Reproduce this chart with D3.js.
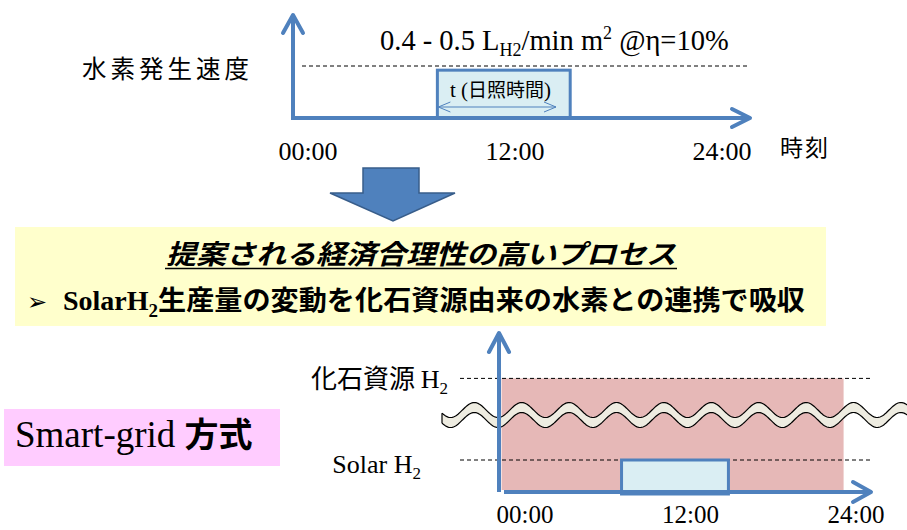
<!DOCTYPE html>
<html><head><meta charset="utf-8">
<script src="https://cdn.jsdelivr.net/npm/d3@7"></script>
<style>body{margin:0;background:#fff}</style></head>
<body><svg id="c" width="907" height="530"></svg>
<script>
// ---- data ----
const timeTicks = [0, 12, 24];
const tickLabels = ["00:00", "12:00", "24:00"];
const topSunHours = [7.5, 15.2];          // daylight window, top chart
const topRateLevels = [0.5, 0.46];        // dashed upper bound, generation level
const bottomSunHours = [7.0, 14.75];      // solar H2 window, bottom chart
const bottomFossilHours = [-1.7, 23.1];   // fossil H2 supply span
const bottomLevelNames = ["Solar H2", "化石資源 H2"];
const bottomLevelValues = [1, 3.55];

const BLUE = "#4f81bd", SERIF = "'Liberation Serif','Times New Roman',serif",
      CJK = "'Noto Sans CJK JP','Noto Sans CJK SC',sans-serif";
const svg = d3.select("#c");

// ---- scales ----
const xTop = d3.scaleLinear().domain([0, 24]).range([308, 722]);
const yTop = d3.scaleLinear().domain([0, 1]).range([118, 14]);
const xBot = d3.scaleLinear().domain([0, 24]).range([525, 856]);
const yBot = d3.scaleLinear().domain([0, 4]).range([492, 364]);

function chevron(g, pts) {
  g.append("path").attr("d", d3.line()(pts)).attr("fill", "none")
    .attr("stroke", BLUE).attr("stroke-width", 4)
    .attr("stroke-linecap", "round").attr("stroke-linejoin", "round");
}
function axisLine(g, x1, y1, x2, y2) {
  g.append("line").attr("x1", x1).attr("y1", y1).attr("x2", x2).attr("y2", y2)
    .attr("stroke", BLUE).attr("stroke-width", 4);
}

// ================= TOP CHART =================
const topG = svg.append("g");
topG.append("line").attr("x1", 302).attr("x2", 747)
  .attr("y1", yTop(topRateLevels[0])).attr("y2", yTop(topRateLevels[0]))
  .attr("stroke", "#000").attr("stroke-width", 1).attr("stroke-dasharray", "4,3");
topG.append("rect").attr("x", xTop(topSunHours[0])).attr("y", yTop(topRateLevels[1]))
  .attr("width", xTop(topSunHours[1]) - xTop(topSunHours[0]))
  .attr("height", yTop(0) - yTop(topRateLevels[1]))
  .attr("fill", "#daeef3").attr("stroke", BLUE).attr("stroke-width", 3);
const x0t = 293;
axisLine(topG, x0t, yTop(0) + 2, x0t, 16);
chevron(topG, [[x0t - 10, 33], [x0t, 15], [x0t + 10, 33]]);
axisLine(topG, x0t - 2, yTop(0), 748, yTop(0));
chevron(topG, [[732, yTop(0) - 9], [750, yTop(0)], [732, yTop(0) + 9]]);
const dy = 107, dx1 = xTop(topSunHours[0]) + 1, dx2 = 556;
topG.append("line").attr("x1", dx1).attr("x2", dx2).attr("y1", dy).attr("y2", dy)
  .attr("stroke", BLUE).attr("stroke-width", 1);
topG.append("path").attr("d", d3.line()([[dx1 + 12, dy - 5], [dx1, dy], [dx1 + 12, dy + 5]]))
  .attr("fill", "none").attr("stroke", BLUE).attr("stroke-width", 1);
topG.append("path").attr("d", d3.line()([[dx2 - 12, dy - 5], [dx2, dy], [dx2 - 12, dy + 5]]))
  .attr("fill", "none").attr("stroke", BLUE).attr("stroke-width", 1);
const tl = topG.append("text").attr("x", 450).attr("y", 97).attr("font-size", 21);
tl.append("tspan").attr("font-family", SERIF).text("t (");
tl.append("tspan").attr("font-family", CJK).attr("font-size", 19).text("日照時間");
tl.append("tspan").attr("font-family", SERIF).text(")");
const rl = topG.append("text").attr("x", 380).attr("y", 50).attr("font-family", SERIF).attr("font-size", 28.5);
rl.append("tspan").text("0.4 - 0.5 L");
rl.append("tspan").attr("font-size", 18).attr("dy", 6).text("H2");
rl.append("tspan").attr("dy", -6).text("/min m");
rl.append("tspan").attr("font-size", 18).attr("dy", -11).text("2");
rl.append("tspan").attr("dy", 11).text(" @η=10%");
topG.selectAll(".tt").data(timeTicks).enter().append("text")
  .attr("x", d => xTop(d)).attr("y", 160).attr("text-anchor", "middle")
  .attr("font-family", SERIF).attr("font-size", 26).text((d, i) => tickLabels[i]);
topG.append("text").attr("x", 780).attr("y", 156).attr("font-family", CJK)
  .attr("font-size", 23).attr("letter-spacing", 2).text("時刻");
topG.append("text").attr("x", 82).attr("y", 78).attr("font-family", CJK)
  .attr("font-size", 24.5).attr("letter-spacing", 4).text("水素発生速度");

// ================= BIG DOWN ARROW =================
svg.append("path")
  .attr("d", d3.line()([[363, 168], [419, 168], [419, 193], [455, 193], [393, 221], [330, 193], [363, 193]]) + "Z")
  .attr("fill", BLUE).attr("stroke", "#385d8a").attr("stroke-width", 1.5);

// ================= YELLOW BOX =================
svg.append("rect").attr("x", 15).attr("y", 227).attr("width", 811).attr("height", 99).attr("fill", "#ffffcc");
svg.append("text").attr("x", 166).attr("y", 264).attr("font-family", CJK).attr("font-size", 27)
  .attr("font-weight", "bold").attr("font-style", "italic")
  .attr("textLength", 510).attr("lengthAdjust", "spacingAndGlyphs")
  .text("提案される経済合理性の高いプロセス");
svg.append("line").attr("x1", 165).attr("x2", 677).attr("y1", 268.5).attr("y2", 268.5)
  .attr("stroke", "#000").attr("stroke-width", 1.5);
svg.append("text").attr("x", 27).attr("y", 310).attr("font-family", "'DejaVu Sans',sans-serif")
  .attr("font-size", 24).text("➢");
const bl = svg.append("text").attr("x", 63).attr("y", 310).attr("font-weight", "bold");
bl.append("tspan").attr("font-family", SERIF).attr("font-size", 28).text("SolarH");
bl.append("tspan").attr("font-family", SERIF).attr("font-size", 19).attr("dy", 7).text("2");
svg.append("text").attr("x", 158).attr("y", 310).attr("font-family", CJK).attr("font-size", 27)
  .attr("font-weight", "bold").attr("textLength", 647).attr("lengthAdjust", "spacingAndGlyphs")
  .text("生産量の変動を化石資源由来の水素との連携で吸収");

// ================= BOTTOM CHART =================
const botG = svg.append("g");
botG.append("rect").attr("x", xBot(bottomFossilHours[0])).attr("y", yBot(bottomLevelValues[1]))
  .attr("width", xBot(bottomFossilHours[1]) - xBot(bottomFossilHours[0]))
  .attr("height", yBot(0) - 2 - yBot(bottomLevelValues[1]))
  .attr("fill", "#e6b8b7");
botG.selectAll(".dl").data(bottomLevelValues).enter().append("line")
  .attr("x1", 460).attr("x2", 871).attr("y1", d => yBot(d)).attr("y2", d => yBot(d))
  .attr("stroke", "#000").attr("stroke-width", 1).attr("stroke-dasharray", "4,3");
// wave break symbol (decoration)
const waveMid = 415, amp = 7.5, period = 47.4, thick = 10, wx0 = 442, wx1 = 910;
const topPts = d3.range(wx0, wx1 + 0.5, 1).map(x => [x, waveMid - thick / 2 + amp * Math.cos(2 * Math.PI * (x - 498) / period)]);
const botPts = topPts.map(p => [p[0], p[1] + thick]).reverse();
botG.append("path").attr("d", d3.line()(topPts.concat(botPts)) + "Z")
  .attr("fill", "#eeece1").attr("stroke", "none");
botG.append("path").attr("d", d3.line()(topPts)).attr("fill", "none").attr("stroke", "#000").attr("stroke-width", 1.2);
botG.append("path").attr("d", d3.line()(botPts)).attr("fill", "none").attr("stroke", "#000").attr("stroke-width", 1.2);
botG.append("line").attr("x1", wx0).attr("x2", wx0).attr("y1", topPts[0][1]).attr("y2", topPts[0][1] + thick)
  .attr("stroke", "#000").attr("stroke-width", 1.2);
botG.append("rect").attr("x", xBot(bottomSunHours[0])).attr("y", yBot(bottomLevelValues[0]))
  .attr("width", xBot(bottomSunHours[1]) - xBot(bottomSunHours[0]))
  .attr("height", yBot(0) + 2 - yBot(bottomLevelValues[0]))
  .attr("fill", "#daeef3").attr("stroke", BLUE).attr("stroke-width", 3);
const x0b = 499;
axisLine(botG, x0b, yBot(0), x0b, 334);
chevron(botG, [[x0b - 10, 352], [x0b, 333], [x0b + 10, 352]]);
axisLine(botG, 504, yBot(0), 869, yBot(0));
chevron(botG, [[853, yBot(0) - 10], [871, yBot(0)], [853, yBot(0) + 10]]);
botG.selectAll(".bt").data(timeTicks).enter().append("text")
  .attr("x", d => xBot(d)).attr("y", 523).attr("text-anchor", "middle")
  .attr("font-family", SERIF).attr("font-size", 25).text((d, i) => tickLabels[i]);
const fl = botG.append("text").attr("x", 448).attr("y", 388).attr("text-anchor", "end");
fl.append("tspan").attr("font-family", CJK).attr("font-size", 26).text("化石資源 ");
fl.append("tspan").attr("font-family", SERIF).attr("font-size", 26).text("H");
fl.append("tspan").attr("font-family", SERIF).attr("font-size", 17).attr("dy", 6).text("2");
const sl = botG.append("text").attr("x", 421).attr("y", 473).attr("text-anchor", "end");
sl.append("tspan").attr("font-family", SERIF).attr("font-size", 26).text("Solar H");
sl.append("tspan").attr("font-family", SERIF).attr("font-size", 17).attr("dy", 6).text("2");

// ================= SMART-GRID BOX =================
svg.append("rect").attr("x", 4).attr("y", 409).attr("width", 276).attr("height", 57).attr("fill", "#ffccff");
const sg = svg.append("text").attr("x", 15).attr("y", 447);
sg.append("tspan").attr("font-family", SERIF).attr("font-size", 37).text("Smart-grid ");
sg.append("tspan").attr("font-family", CJK).attr("font-size", 34).attr("font-weight", "bold").text("方式");
</script></body></html>
